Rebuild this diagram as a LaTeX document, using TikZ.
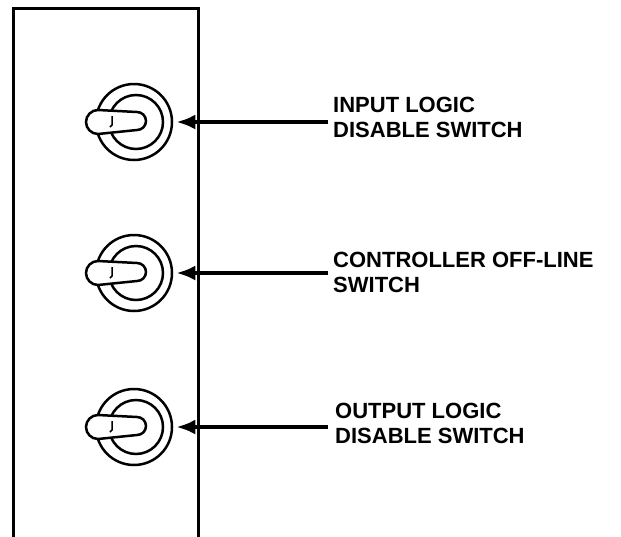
\documentclass[tikz,border=0pt]{standalone}
\usepackage{fontspec}
\setmainfont{Liberation Sans}
\usetikzlibrary{arrows.meta}

\begin{document}
\begin{tikzpicture}[x=1pt, y=-1pt,
    ring/.style={draw, circle, line width=2.5pt, inner sep=0pt},
    switchtext/.style={anchor=north west, inner sep=0pt, align=left, font=\bfseries\fontsize{22}{25}\selectfont},
    pointer/.style={line width=4pt, -{Latex[length=19pt, width=15pt]}, shorten >=3pt}]
    \newcommand*{\outerradius}{38}
    \newcommand*{\innerradius}{27}
    % toggle lever over the rings, #1 = x, #2 = y of the centre
    \newcommand*{\lever}[2]{%
    \draw[line width=2.5pt, fill=white] (#1-36, #2-12) -- (#1+3, #2-10) arc[start angle=-90, end angle=90, radius=9] -- (#1-36, #2+12) arc[start angle=90, end angle=270, radius=12] -- cycle;
    \draw[line width=1.5pt] (#1-22, #2-6) -- (#1-22, #2+3) -- (#1-24, #2+5);}
    \useasboundingbox (0,0) rectangle (621,536);
    % panel
    \draw[line width=3pt] (13,540) -- (13,8) -- (198,8) -- (198,540);
    % switches
    \node[ring, minimum size=2*\outerradius] (out1) at (134,122) {};
    \node[ring, minimum size=2*\innerradius] (in1) at (136,122) {};
    \lever{134}{122}
    \node[ring, minimum size=2*\outerradius] (out2) at (134,273) {};
    \node[ring, minimum size=2*\innerradius] (in2) at (136,273) {};
    \lever{134}{273}
    \node[ring, minimum size=2*\outerradius] (out3) at (134,427) {};
    \node[ring, minimum size=2*\innerradius] (in3) at (136,427) {};
    \lever{134}{427}
    % labels
    \node[switchtext] (lbl1) at (333,97) {INPUT LOGIC\\DISABLE SWITCH};
    \node[switchtext] (lbl2) at (333,252) {CONTROLLER OFF-LINE\\SWITCH};
    \node[switchtext] (lbl3) at (335,403) {OUTPUT LOGIC\\DISABLE SWITCH};
    \draw[pointer] (out1.east -| lbl1.west) ++(-5,0) -- (out1.east);
    \draw[pointer] (out2.east -| lbl2.west) ++(-5,0) -- (out2.east);
    \draw[pointer] (out3.east -| lbl3.west) ++(-7,0) -- (out3.east);
\end{tikzpicture}
\end{document}
